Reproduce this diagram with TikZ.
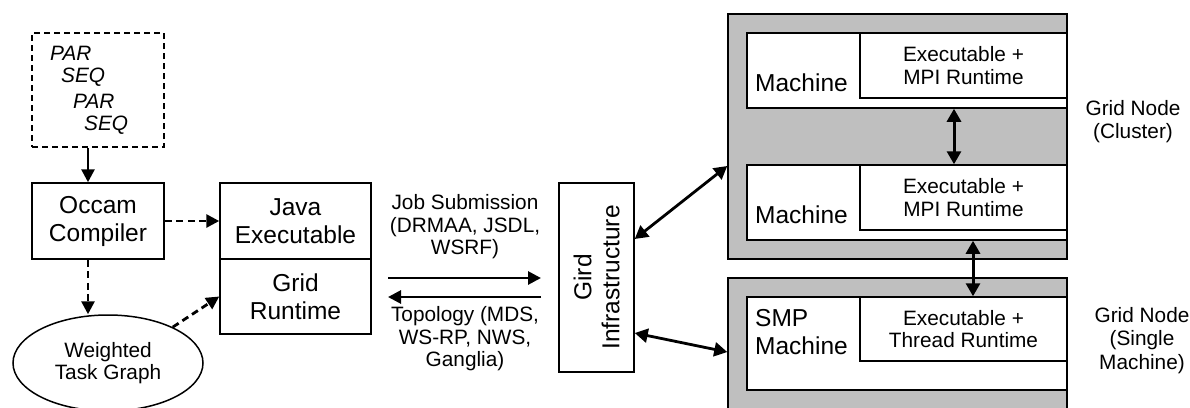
\documentclass[tikz,border=0pt]{standalone}
\usepackage{fontspec}
\setmainfont{Liberation Sans}
\usetikzlibrary{arrows.meta,shapes.geometric,calc}

\newcommand\bigtxt{\fontsize{24.5}{28}\selectfont}
\newcommand\smalltxt{\fontsize{20.8}{22.5}\selectfont}
\newcommand\sidetxt{\fontsize{20.8}{23.5}\selectfont}

\tikzset{
  box/.style={draw, line width=1.5pt, fill=white, inner sep=0pt, align=center, font=\bigtxt},
  nodebox/.style={draw, line width=1.5pt, fill=black!25, inner sep=0pt},
  lbl/.style={inner sep=0pt, align=center, font=\smalltxt},
  tip/.style={-{Triangle[length=13pt,width=13pt]}},
  solidarr/.style={tip, line width=2.8pt},
  dasharr/.style={tip, line width=2.8pt, dash pattern=on 7pt off 4.5pt},
  twoway/.style={{Triangle[length=13pt,width=14pt]}-{Triangle[length=13pt,width=14pt]}, line width=3pt},
}

\begin{document}
\begin{tikzpicture}[x=1pt,y=-1pt]
\clip (0,0) rectangle (1190,407);

% ---- compiler side ----
\node[draw, line width=1.8pt, dash pattern=on 6pt off 4pt, minimum width=132pt, minimum height=114pt, inner sep=0pt] (src) at (98,90) {};
\node[lbl, anchor=west, font=\smalltxt\itshape] (l1) at (50,53) {PAR};
\node[lbl, anchor=west, font=\smalltxt\itshape] (l2) at (61,77) {SEQ};
\node[lbl, anchor=west, font=\smalltxt\itshape] (l3) at (73,101) {PAR};
\node[lbl, anchor=west, font=\smalltxt\itshape] (l4) at (84,125) {SEQ};

\node[box, minimum width=132pt, minimum height=76pt] (occam) at (98,221) {Occam\\Compiler};
\node[box, minimum width=151pt, minimum height=76pt] (java) at (295.5,221) {Java\\Executable};
\node[box, minimum width=151pt, minimum height=75pt] (gridrt) at (295.5,296.5) {Grid\\Runtime};
\node[draw, ellipse, line width=1.5pt, minimum width=190pt, minimum height=96pt, inner sep=0pt, font=\smalltxt, align=center] (weighted) at (108,363) {Weighted\\Task Graph};

\draw[solidarr] ([xshift=-10pt]src.south) -- ([xshift=-10pt]occam.north);
\draw[dasharr] (occam.east) -- (java.west);
\draw[dasharr] ([xshift=-10pt]occam.south) -- ([xshift=-10pt]occam.south |- weighted.north);
\draw[dasharr] (weighted.29) -- (gridrt.west);

% ---- submission / topology ----
\node[lbl] (job) at (465,227) {Job Submission\\(DRMAA, JSDL,\\WSRF)};
\node[lbl] (topo) at (465,339) {Topology (MDS,\\WS-RP, NWS,\\Ganglia)};
\coordinate (js1) at (388,278);
\coordinate (js2) at (541,278);
\coordinate (tp1) at (541,297);
\coordinate (tp2) at (388,297);
\draw[solidarr] (js1) -- (js2);
\draw[solidarr] (tp1) -- (tp2);

\node[box, rotate=90, minimum width=189pt, minimum height=75pt] (gird) at (596.5,277.5) {Gird\\Infrastructure};

% ---- grid nodes ----
\node[nodebox, minimum width=339pt, minimum height=245pt] (cluster) at (897.5,136.5) {};
\node[box, minimum width=320pt, minimum height=75pt] (m1) at (907,70.5) {};
\node[box, minimum width=207pt, minimum height=65pt, font=\smalltxt] (e1) at (963.5,65.5) {Executable +\\MPI Runtime};
\node[anchor=west, inner sep=0pt, font=\bigtxt] (m1t) at (755,83) {Machine};

\node[box, minimum width=320pt, minimum height=75pt] (m2) at (907,202.5) {};
\node[box, minimum width=207pt, minimum height=65pt, font=\smalltxt] (e2) at (963.5,197.5) {Executable +\\MPI Runtime};
\node[anchor=west, inner sep=0pt, font=\bigtxt] (m2t) at (755,215) {Machine};

\node[nodebox, minimum width=339pt, minimum height=142pt] (smp) at (897.5,349) {};
\node[box, minimum width=320pt, minimum height=93pt] (m3) at (907,343.5) {};
\node[box, minimum width=207pt, minimum height=64pt, font=\smalltxt] (e3) at (963.5,329) {Executable +\\Thread Runtime};
\node[anchor=west, inner sep=0pt, font=\bigtxt, align=left] (m3t) at (755,332) {SMP\\Machine};

\draw[twoway] ([xshift=47pt]m1.south) -- ([xshift=47pt]m2.north);
\draw[twoway] ([xshift=66pt]m2.south) -- ([xshift=66pt]m3.north);

\draw[twoway, line width=2.8pt] ([yshift=38.5pt]gird.south) -- ([yshift=-29.5pt]cluster.west);
\draw[twoway, line width=2.8pt] ([yshift=-55.5pt]gird.south) -- ([yshift=-3pt]smp.west);

\node[lbl, font=\sidetxt] (gc) at (1133,121.5) {Grid Node\\(Cluster)};
\node[lbl, font=\sidetxt] (gs) at (1142,340.5) {Grid Node\\(Single\\Machine)};
\end{tikzpicture}
\end{document}
